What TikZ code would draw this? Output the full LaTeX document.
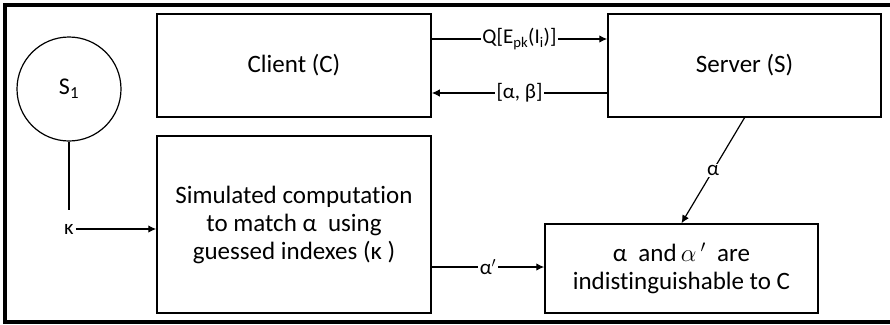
\documentclass[tikz,border=0pt]{standalone}
\usepackage{fontspec}
\setmainfont{Carlito}[Ligatures=NoCommon]
\usetikzlibrary{arrows.meta}

\tikzset{
  party/.style={draw, line width=1.5pt, minimum width=274pt, fill=white, align=center,
    inner sep=0pt, font=\fontsize{25}{28}\selectfont},
  msg/.style={fill=white, inner sep=1.5pt, font=\fontsize{21}{24}\selectfont},
}

\begin{document}
\begin{tikzpicture}[x=1pt, y=-1pt, >={Latex[length=8pt,width=7.5pt]}, line width=1.2pt]
\clip (0,0) rectangle (890,324);
% frame, open on the right
\draw[line width=4pt] (900,5) -- (5,5) -- (5,322) -- (900,322);

% parties
\node[party, minimum height=103pt] (client) at (294,65.5) {Client (C)};
\node[party, minimum height=103pt, minimum width=273pt] (server) at (744.5,65.5) {Server (S)};
\node[party, minimum height=177pt] (simcomp) at (294,224.5)
  {Simulated computation\\ to match α\ \ using\\ guessed indexes (κ\ )};
\node[party, minimum height=89pt, minimum width=273pt] (result) at (681.5,268.5)
  {α\ \ and\,$\alpha$\,$'$\ \ are\\ indistinguishable to C};

% simulator
\node[draw, circle, line width=1.2pt, minimum size=104pt, inner sep=0pt,
  font=\fontsize{24}{27.5}\selectfont] (sone) at (69,89) {S\textsubscript{1}};
\coordinate (kappatop) at (69,210);
\node[font=\fontsize{21}{24}\selectfont, inner sep=1.5pt] (kappa) at (69,229) {κ};

% messages
\draw[->] (client.east |- 0,39) -- node[msg] {Q[E\textsubscript{pk}(I\textsubscript{i})]} (server.west |- 0,39);
\draw[->] (server.west |- 0,93) -- node[msg] {[α, β]} (client.east |- 0,93);
\draw (sone.south) -- (kappatop);
\draw[->] (kappa.east) -- (simcomp.west |- kappa);
\draw[->] (server.south) -- node[msg] {α} (result.north);
\draw[->] (simcomp.east |- 0,267) -- node[msg] {α$'$} (result.west |- 0,267);
\end{tikzpicture}
\end{document}
